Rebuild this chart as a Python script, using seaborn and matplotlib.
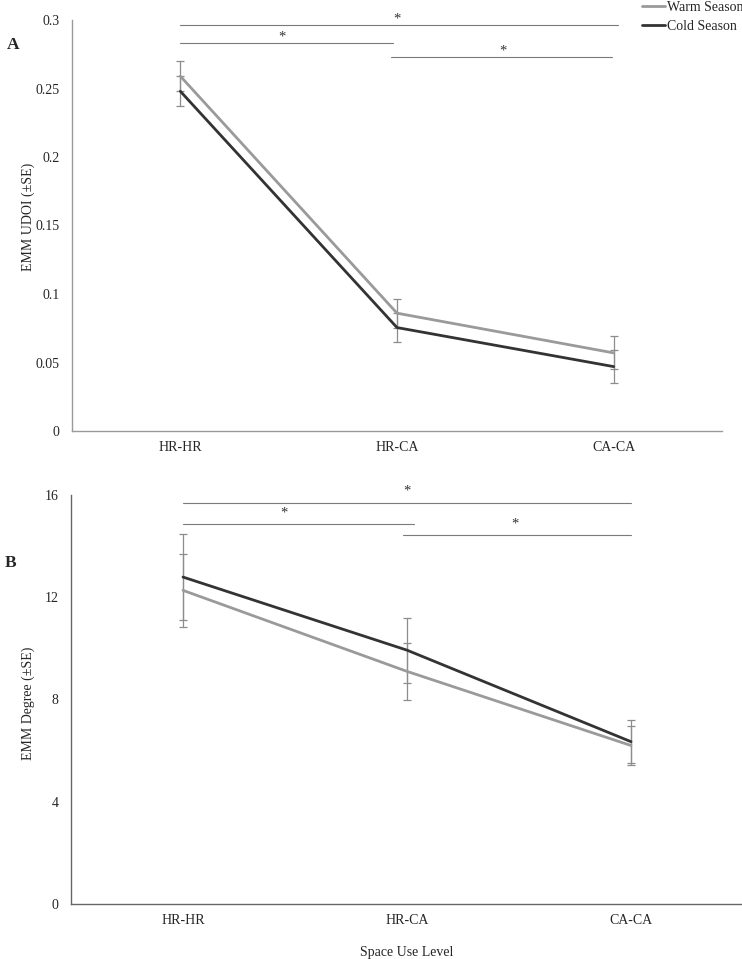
import matplotlib
matplotlib.use("Agg")
import matplotlib.pyplot as plt
import seaborn as sns
import pandas as pd
import numpy as np

# ---------------- data ----------------
levels = ["HR-HR", "HR-CA", "CA-CA"]
seasons = ["Warm Season", "Cold Season"]

udoi_warm = [0.259, 0.086, 0.057]
udoi_cold = [0.248, 0.0755, 0.047]
udoi_warm_se = [0.011, 0.0105, 0.012]
udoi_cold_se = [0.011, 0.0105, 0.012]

deg_warm = [12.27, 9.1, 6.2]
deg_cold = [12.79, 9.93, 6.35]
deg_warm_se = [1.43, 1.1, 0.75]
deg_cold_se = [1.69, 1.27, 0.85]

udoi_ticks = [0, 0.05, 0.1, 0.15, 0.2, 0.25, 0.3]
udoi_ticklabels = ["0", "0.05", "0.1", "0.15", "0.2", "0.25", "0.3"]
deg_ticks = [0, 4, 8, 12, 16]

# significance brackets: (x_start, x_end, y, star_x, star_y)
udoi_sig = [(0.0, 2.02, 0.2965, 1.0, 0.3005),
            (0.0, 0.98, 0.2833, 0.47, 0.2873),
            (0.97, 1.99, 0.2731, 1.49, 0.2771)]
deg_sig = [(0.0, 2.0, 15.70, 1.0, 16.15),
           (0.0, 1.03, 14.88, 0.45, 15.30),
           (0.98, 2.0, 14.44, 1.48, 14.85)]

# ---------------- style ----------------
sns.set_theme(style="white")
plt.rcParams["font.family"] = ["Liberation Serif", "DejaVu Serif"]
plt.rcParams["font.size"] = 10

warm_col = "#9a9a9a"
cold_col = "#333333"
err_col = "#8c8c8c"
palette = {"Warm Season": warm_col, "Cold Season": cold_col}

W, H = 742, 959
fig = plt.figure(figsize=(W / 100, H / 100), dpi=100)

def fx(px):
    return px / W

def fy(py):
    return 1 - py / H

axA = fig.add_axes([fx(72), fy(431), fx(722) - fx(72), fy(20) - fy(431)])
axB = fig.add_axes([fx(71), fy(904), fx(743) - fx(71), fy(495) - fy(904)])


def draw_panel(ax, warm, cold, warm_se, cold_se, ticks, ticklabels, ylim,
               ylabel, sig, spine_col, legend=False):
    df = pd.DataFrame({
        "level": levels * 2,
        "season": [seasons[0]] * 3 + [seasons[1]] * 3,
        "value": list(warm) + list(cold),
    })
    x = np.arange(len(levels))
    ax.errorbar(x, warm, yerr=warm_se, fmt="none", ecolor=err_col,
                elinewidth=0.9, capsize=3, capthick=0.9, zorder=1)
    ax.errorbar(x, cold, yerr=cold_se, fmt="none", ecolor=err_col,
                elinewidth=0.9, capsize=3, capthick=0.9, zorder=1)
    sns.lineplot(data=df, x="level", y="value", hue="season", palette=palette,
                 sort=False, linewidth=2.0, ax=ax, legend=legend, zorder=3)
    ax.set_xlim(-0.5, 2.5)
    ax.set_ylim(*ylim)
    ax.set_yticks(ticks)
    ax.set_yticklabels(ticklabels)
    ax.set_xticks(x)
    ax.set_xticklabels(levels)
    ax.tick_params(axis="both", length=0, labelsize=10, colors="#262626")
    ax.tick_params(axis="y", pad=9)
    ax.tick_params(axis="x", pad=7)
    for s in ["top", "right"]:
        ax.spines[s].set_visible(False)
    for s in ["left", "bottom"]:
        ax.spines[s].set_color(spine_col)
        ax.spines[s].set_linewidth(1.0)
    ax.set_ylabel(ylabel, fontsize=10, color="#262626")
    ax.set_xlabel("")
    for (x0, x1, y, sx, sy) in sig:
        ax.plot([x0, x1], [y, y], color="#7a7a7a", lw=0.8, clip_on=False,
                zorder=2)
        ax.text(sx, sy, "*", ha="center", va="center", fontsize=10.5,
                color="#333333", clip_on=False)


draw_panel(axA, udoi_warm, udoi_cold, udoi_warm_se, udoi_cold_se,
           udoi_ticks, udoi_ticklabels, (0, 0.3), "EMM UDOI (±SE)",
           udoi_sig, "#9a9a9a", legend=True)
draw_panel(axB, deg_warm, deg_cold, deg_warm_se, deg_cold_se,
           deg_ticks, [str(t) for t in deg_ticks], (0, 16),
           "EMM Degree (±SE)", deg_sig, "#666666")

axA.yaxis.set_label_coords(-(72 - 35) / (722 - 72), 0.52)
axB.yaxis.set_label_coords(-(71 - 35) / (743 - 71), 0.49)

axB.set_xlabel("Space Use Level", fontsize=10, color="#262626", labelpad=14)

# legend
leg = axA.legend(loc="upper left", bbox_to_anchor=(fx(642), fy(1)),
                 bbox_transform=fig.transFigure, frameon=False,
                 handlelength=1.65, handletextpad=0.15, labelspacing=0.45,
                 borderpad=0, borderaxespad=0, fontsize=10)
for line in leg.get_lines():
    line.set_linewidth(2.0)

# panel letters
fig.text(fx(13), fy(45), "A", fontsize=12.5, fontweight="bold",
         ha="center", va="center")
fig.text(fx(11), fy(563), "B", fontsize=12.5, fontweight="bold",
         ha="center", va="center")

fig.savefig("out.png", dpi=100, facecolor="white")
